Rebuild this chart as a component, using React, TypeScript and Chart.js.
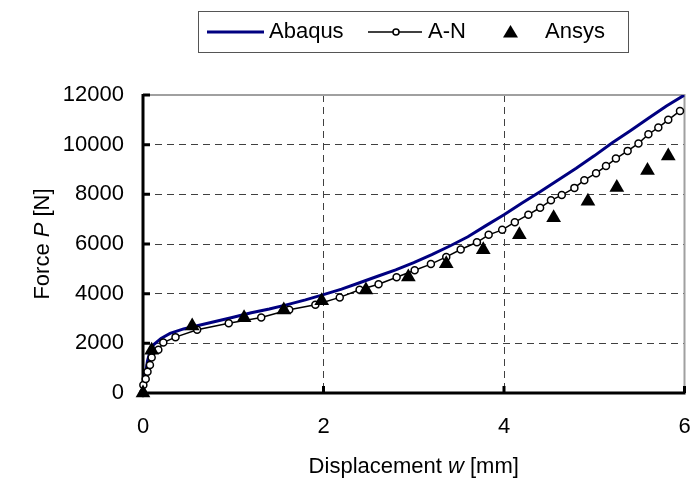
import React, { useEffect, useRef } from "react";
import { Chart, registerables } from "chart.js";

Chart.register(...registerables);

// ---- data ----
const abaqusX = [0, 0.02, 0.05, 0.08, 0.12, 0.2, 0.3, 0.45, 0.6, 0.8, 1.0, 1.2, 1.4, 1.6, 1.8, 2.0, 2.2, 2.4, 2.6, 2.8, 3.0, 3.2, 3.4, 3.6, 3.8, 4.0, 4.2, 4.4, 4.6, 4.8, 5.0, 5.2, 5.4, 5.6, 5.8, 6.0];
const abaqusY = [0, 600, 1300, 1700, 1950, 2200, 2400, 2580, 2710, 2880, 3050, 3230, 3380, 3560, 3750, 3960, 4180, 4440, 4700, 4960, 5250, 5570, 5920, 6290, 6740, 7180, 7650, 8100, 8580, 9050, 9550, 10080, 10560, 11060, 11560, 12000];

const anX = [0, 0.004, 0.03, 0.05, 0.077, 0.096, 0.17, 0.225, 0.36, 0.6, 0.95, 1.31, 1.62, 1.91, 2.18, 2.4, 2.61, 2.81, 3.01, 3.19, 3.36, 3.52, 3.7, 3.83, 3.98, 4.12, 4.27, 4.4, 4.52, 4.64, 4.78, 4.89, 5.02, 5.13, 5.24, 5.37, 5.49, 5.6, 5.71, 5.82, 5.95];
const anY = [0, 320, 565, 860, 1130, 1430, 1740, 2030, 2250, 2545, 2810, 3040, 3350, 3555, 3850, 4160, 4380, 4660, 4940, 5190, 5480, 5780, 6070, 6370, 6570, 6880, 7180, 7460, 7760, 7970, 8260, 8570, 8850, 9140, 9440, 9750, 10050, 10420, 10690, 11000, 11360];

const ansysX = [0, 0.096, 0.545, 1.12, 1.56, 1.98, 2.47, 2.94, 3.36, 3.77, 4.17, 4.55, 4.93, 5.25, 5.59, 5.82];
const ansysY = [0, 1720, 2700, 3030, 3340, 3710, 4150, 4670, 5200, 5770, 6370, 7060, 7720, 8280, 8960, 9540];

const xTicks = [0, 2, 4, 6];
const yTicks = [0, 2000, 4000, 6000, 8000, 10000, 12000];
const seriesNames = ["Abaqus", "A-N", "Ansys"];
const xTitleParts = ["Displacement ", "w", " [mm]"];
const yTitleParts = ["Force ", "P", " [N]"];

const FONT = '"Liberation Sans", Arial, Helvetica, sans-serif';
const NAVY = "#000080";

function toPoints(xs: number[], ys: number[]) {
  return xs.map((x, i) => ({ x, y: ys[i] }));
}

function drawMixed(ctx: CanvasRenderingContext2D, parts: string[], size: number) {
  const fonts = parts.map((_, i) => (i === 1 ? `italic ${size}px ${FONT}` : `${size}px ${FONT}`));
  let total = 0;
  const widths = parts.map((p, i) => {
    ctx.font = fonts[i];
    const w = ctx.measureText(p).width;
    total += w;
    return w;
  });
  let x = -total / 2;
  parts.forEach((p, i) => {
    ctx.font = fonts[i];
    ctx.fillText(p, x, 0);
    x += widths[i];
  });
}

const decorPlugin = {
  id: "decor",
  beforeDatasetsDraw(chart: any) {
    const { ctx, chartArea: a, scales } = chart;
    ctx.save();
    ctx.strokeStyle = "#a0a0a0";
    ctx.lineWidth = 2;
    ctx.beginPath();
    ctx.moveTo(a.left, a.top);
    ctx.lineTo(a.right, a.top);
    ctx.lineTo(a.right, a.bottom);
    ctx.stroke();

    ctx.strokeStyle = "#000";
    ctx.lineWidth = 3;
    ctx.beginPath();
    ctx.moveTo(a.left, a.top - 1);
    ctx.lineTo(a.left, a.bottom + 1.5);
    ctx.moveTo(a.left - 1.5, a.bottom);
    ctx.lineTo(a.right + 1, a.bottom);
    for (const v of yTicks) {
      const y = scales.y.getPixelForValue(v);
      ctx.moveTo(a.left, y);
      ctx.lineTo(a.left + 7, y);
    }
    for (const v of xTicks) {
      const x = scales.x.getPixelForValue(v);
      ctx.moveTo(x, a.bottom);
      ctx.lineTo(x, a.bottom - 7);
    }
    ctx.stroke();
    ctx.restore();
  },
  afterDraw(chart: any) {
    const { ctx, chartArea: a } = chart;
    ctx.save();
    ctx.fillStyle = "#000";
    ctx.textBaseline = "alphabetic";
    ctx.textAlign = "left";

    // x title
    ctx.save();
    ctx.translate((a.left + a.right) / 2, 473);
    drawMixed(ctx, xTitleParts, 22);
    ctx.restore();

    // y title
    ctx.save();
    ctx.translate(49, (a.top + a.bottom) / 2);
    ctx.rotate(-Math.PI / 2);
    drawMixed(ctx, yTitleParts, 22);
    ctx.restore();

    // legend
    ctx.fillStyle = "#fff";
    ctx.fillRect(198, 11, 430, 41);
    ctx.strokeStyle = "#555";
    ctx.lineWidth = 1;
    ctx.strokeRect(198.5, 11.5, 430, 41);

    const ly = 32;
    ctx.strokeStyle = NAVY;
    ctx.lineWidth = 3;
    ctx.beginPath();
    ctx.moveTo(207, ly);
    ctx.lineTo(264, ly);
    ctx.stroke();

    ctx.strokeStyle = "#000";
    ctx.lineWidth = 1.5;
    ctx.beginPath();
    ctx.moveTo(368, ly);
    ctx.lineTo(422, ly);
    ctx.stroke();
    ctx.beginPath();
    ctx.arc(396, ly, 3, 0, Math.PI * 2);
    ctx.fillStyle = "#fff";
    ctx.fill();
    ctx.stroke();

    ctx.fillStyle = "#000";
    ctx.beginPath();
    ctx.moveTo(510.5, 25);
    ctx.lineTo(518, 37.5);
    ctx.lineTo(503, 37.5);
    ctx.closePath();
    ctx.fill();

    ctx.font = `22px ${FONT}`;
    ctx.fillText(seriesNames[0], 269, 37.5);
    ctx.fillText(seriesNames[1], 428, 37.5);
    ctx.fillText(seriesNames[2], 545, 37.5);
    ctx.restore();
  },
};

export default function App() {
  const ref = useRef<HTMLCanvasElement | null>(null);

  useEffect(() => {
    if (!ref.current) return;
    const gridColor = (max: number) => (c: any) => {
      const v = c.tick ? c.tick.value : null;
      return v === 0 || v === max ? "rgba(0,0,0,0)" : "#404040";
    };
    const chart = new Chart(ref.current, {
      type: "scatter",
      data: {
        datasets: [
          {
            label: seriesNames[0],
            data: toPoints(abaqusX, abaqusY),
            showLine: true,
            borderColor: NAVY,
            backgroundColor: NAVY,
            borderWidth: 3,
            pointRadius: 0,
            tension: 0,
            order: 3,
          },
          {
            label: seriesNames[1],
            data: toPoints(anX, anY),
            showLine: true,
            borderColor: "#000",
            backgroundColor: "#fff",
            borderWidth: 1.5,
            pointRadius: 3.5,
            pointBorderWidth: 1.5,
            pointBorderColor: "#000",
            pointBackgroundColor: "#fff",
            tension: 0,
            order: 2,
            clip: false,
          },
          {
            label: seriesNames[2],
            data: toPoints(ansysX, ansysY),
            showLine: false,
            pointStyle: "triangle",
            pointRadius: 8.5,
            pointBorderWidth: 0,
            backgroundColor: "#000",
            borderColor: "#000",
            order: 1,
            clip: false,
          } as any,
        ],
      },
      options: {
        responsive: false,
        animation: false,
        events: [],
        layout: { padding: { top: 95, right: 8, left: 0, bottom: 0 } },
        plugins: {
          legend: { display: false },
          tooltip: { enabled: false },
          title: { display: false },
        },
        scales: {
          x: {
            type: "linear",
            min: 0,
            max: 6,
            afterFit: (s: any) => {
              s.height = 87;
              s.paddingLeft = 0;
              s.paddingRight = 0;
            },
            afterBuildTicks: (s: any) => {
              s.ticks = xTicks.map((v) => ({ value: v }));
            },
            ticks: {
              color: "#000",
              padding: 21,
              font: { family: FONT, size: 22 },
              maxRotation: 0,
            },
            grid: { color: gridColor(6), lineWidth: 1, drawTicks: false },
            border: { display: false, dash: [7, 5] },
          },
          y: {
            type: "linear",
            min: 0,
            max: 12000,
            afterFit: (s: any) => {
              s.width = 143;
              s.paddingTop = 0;
              s.paddingBottom = 0;
            },
            afterBuildTicks: (s: any) => {
              s.ticks = yTicks.map((v) => ({ value: v }));
            },
            ticks: {
              color: "#000",
              padding: 19,
              font: { family: FONT, size: 22 },
              callback: (v: any) => String(v),
            },
            grid: { color: gridColor(12000), lineWidth: 1, drawTicks: false },
            border: { display: false, dash: [7, 5] },
          },
        },
      },
      plugins: [decorPlugin],
    } as any);
    return () => chart.destroy();
  }, []);

  return (
    <div style={{ position: "fixed", left: 0, top: 0, width: 693, height: 480, background: "#fff" }}>
      <canvas ref={ref} width={693} height={480} style={{ display: "block" }} />
    </div>
  );
}
